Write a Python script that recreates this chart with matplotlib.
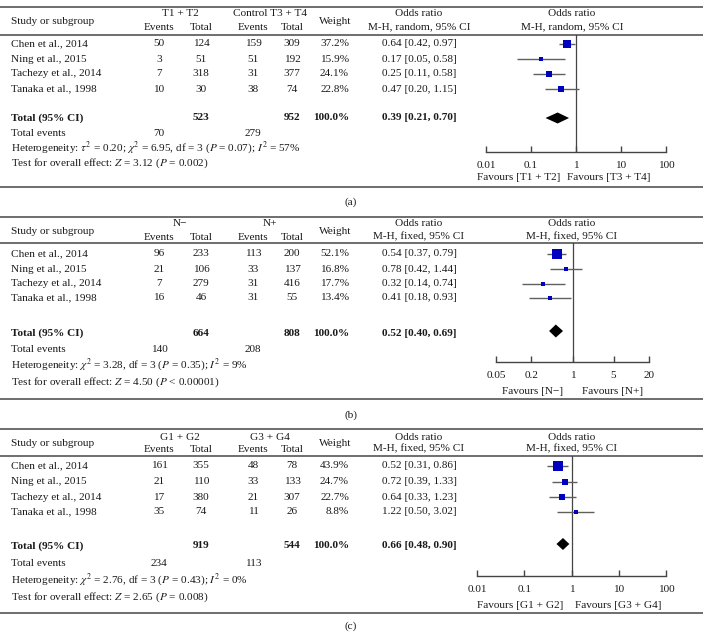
import matplotlib
matplotlib.use("Agg")
import matplotlib.pyplot as plt
from matplotlib.patches import Polygon

plt.rcParams['font.family'] = ['Liberation Serif', 'DejaVu Serif']
plt.rcParams['mathtext.fontset'] = 'stix'

# ---------------- data ----------------
studies = ["Chen et al., 2014", "Ning et al., 2015",
           "Tachezy et al., 2014", "Tanaka et al., 1998"]

# Panel (a)
a_groups = ["T1 + T2", "Control T3 + T4"]
a_exp_events = [50, 3, 7, 10]
a_exp_total = [124, 51, 318, 30]
a_ctl_events = [159, 51, 31, 38]
a_ctl_total = [309, 192, 377, 74]
a_weight = [37.2, 15.9, 24.1, 22.8]
a_or = [0.64, 0.17, 0.25, 0.47]
a_lo = [0.42, 0.05, 0.11, 0.20]
a_hi = [0.97, 0.58, 0.58, 1.15]
a_pooled = [0.39, 0.21, 0.70]
a_totals = [523, 952]
a_total_events = [70, 279]
a_method = "M-H, random, 95% CI"
a_het = r"Heterogeneity: $\tau^2$ = 0.20; $\chi^2$ = 6.95, df = 3 ($P$ = 0.07); $I^2$ = 57%"
a_test = r"Test for overall effect: $Z$ = 3.12 ($P$ = 0.002)"
a_ticks = [0.01, 0.1, 1, 10, 100]
a_ticklabels = ["0.01", "0.1", "1", "10", "100"]
a_favours = ["Favours [T1 + T2]", "Favours [T3 + T4]"]

# Panel (b)
b_groups = ["N\u2212", "N+"]
b_exp_events = [96, 21, 7, 16]
b_exp_total = [233, 106, 279, 46]
b_ctl_events = [113, 33, 31, 31]
b_ctl_total = [200, 137, 416, 55]
b_weight = [52.1, 16.8, 17.7, 13.4]
b_or = [0.54, 0.78, 0.32, 0.41]
b_lo = [0.37, 0.42, 0.14, 0.18]
b_hi = [0.79, 1.44, 0.74, 0.93]
b_pooled = [0.52, 0.40, 0.69]
b_totals = [664, 808]
b_total_events = [140, 208]
b_method = "M-H, fixed, 95% CI"
b_het = r"Heterogeneity: $\chi^2$ = 3.28, df = 3 ($P$ = 0.35); $I^2$ = 9%"
b_test = r"Test for overall effect: $Z$ = 4.50 ($P$ < 0.00001)"
b_ticks = [0.05, 0.2, 1, 5, 20]
b_ticklabels = ["0.05", "0.2", "1", "5", "20"]
b_favours = ["Favours [N\u2212]", "Favours [N+]"]

# Panel (c)
c_groups = ["G1 + G2", "G3 + G4"]
c_exp_events = [161, 21, 17, 35]
c_exp_total = [355, 110, 380, 74]
c_ctl_events = [48, 33, 21, 11]
c_ctl_total = [78, 133, 307, 26]
c_weight = [43.9, 24.7, 22.7, 8.8]
c_or = [0.52, 0.72, 0.64, 1.22]
c_lo = [0.31, 0.39, 0.33, 0.50]
c_hi = [0.86, 1.33, 1.23, 3.02]
c_pooled = [0.66, 0.48, 0.90]
c_totals = [919, 544]
c_total_events = [234, 113]
c_method = "M-H, fixed, 95% CI"
c_het = r"Heterogeneity: $\chi^2$ = 2.76, df = 3 ($P$ = 0.43); $I^2$ = 0%"
c_test = r"Test for overall effect: $Z$ = 2.65 ($P$ = 0.008)"
c_ticks = [0.01, 0.1, 1, 10, 100]
c_ticklabels = ["0.01", "0.1", "1", "10", "100"]
c_favours = ["Favours [G1 + G2]", "Favours [G3 + G4]"]

# ---------------- layout ----------------
W, H = 703, 640
fig = plt.figure(figsize=(W / 100, H / 100), dpi=100)
base = fig.add_axes([0, 0, 1, 1])
base.set_xlim(0, W)
base.set_ylim(H, 0)
base.axis('off')

FS = 8.1
RULE_C = '#555555'
SQ_C = '#0000c0'
CI_C = '#606060'
TXT_C = '#1a1a1a'

X_STUDY = 11
X_E1, X_T1, X_E2, X_T2 = 159, 201, 253, 292
X_G1, X_G2 = 180, 270
X_W = 349
X_WH = 335
X_OR = 419
X_FH = 572


def txt(x, y, s, ha='center', bold=False, size=FS):
    base.text(x, y, s, ha=ha, va='center', fontsize=size, color=TXT_C,
              fontweight='bold' if bold else 'normal')


def rule(y):
    base.plot([0, W], [y, y], color=RULE_C, lw=1.2, solid_capstyle='butt')


def panel(L, groups, ee, et, ce, ct, wt, orv, lo, hi, pooled, totals,
          tev, method, het, test, ticks, ticklabels, favours, caption):
    rule(L['top'])
    rule(L['hrule'])
    rule(L['bottom'])
    # headers
    txt(X_STUDY, L['hs'], "Study or subgroup", ha='left')
    txt(X_G1, L['h1'], groups[0])
    txt(X_G2, L['h1'], groups[1])
    for x, s in [(X_E1, "Events"), (X_T1, "Total"), (X_E2, "Events"), (X_T2, "Total")]:
        txt(x, L['h2'], s)
    txt(X_WH, L['hs'], "Weight")
    txt(X_OR, L['h1'], "Odds ratio")
    txt(X_OR, L['h2'], method)
    txt(X_FH, L['h1'], "Odds ratio")
    txt(X_FH, L['h2'], method)
    # rows
    for i, y in enumerate(L['rows']):
        txt(X_STUDY, y, studies[i], ha='left')
        txt(X_E1, y, str(ee[i]))
        txt(X_T1, y, str(et[i]))
        txt(X_E2, y, str(ce[i]))
        txt(X_T2, y, str(ct[i]))
        txt(X_W, y, f"{wt[i]:.1f}%", ha='right')
        txt(X_OR, y, f"{orv[i]:.2f} [{lo[i]:.2f}, {hi[i]:.2f}]")
    ty = L['total']
    txt(X_STUDY, ty, "Total (95% CI)", ha='left', bold=True)
    txt(X_T1, ty, str(totals[0]), bold=True)
    txt(X_T2, ty, str(totals[1]), bold=True)
    txt(X_W, ty, "100.0%", ha='right', bold=True)
    txt(X_OR, ty, f"{pooled[0]:.2f} [{pooled[1]:.2f}, {pooled[2]:.2f}]", bold=True)
    txt(X_STUDY, L['tev'], "Total events", ha='left')
    txt(X_E1, L['tev'], str(tev[0]))
    txt(X_E2, L['tev'], str(tev[1]))
    txt(X_STUDY, L['het'], het, ha='left')
    txt(X_STUDY, L['test'], test, ha='left')
    txt(351, L['cap'], caption)
    for x, s, ha in [(L['fav'][0], favours[0], 'right'), (L['fav'][1], favours[1], 'left')]:
        txt(x, L['favy'], s, ha=ha)

    # forest axes (pixel-aligned)
    x0, x1 = L['fx']
    ytop, yax = L['hrule'], L['axis']
    ax = fig.add_axes([x0 / W, 1 - yax / H, (x1 - x0) / W, (yax - ytop) / H])
    ax.set_xscale('log')
    ax.set_xlim(ticks[0], ticks[-1])
    ax.set_ylim(yax, ytop)
    ax.patch.set_alpha(0)
    for s in ['top', 'left', 'right']:
        ax.spines[s].set_visible(False)
    ax.spines['bottom'].set_color('#444444')
    ax.spines['bottom'].set_linewidth(1.0)
    ax.set_xticks(ticks)
    ax.set_xticklabels(ticklabels, fontsize=FS, color=TXT_C)
    ax.minorticks_off()
    ax.tick_params(axis='x', direction='in', length=4, width=1.0,
                   color='#444444', pad=6.5)
    ax.set_yticks([])
    ax.axvline(1, color='#444444', lw=0.9)
    for i, y in enumerate(L['rows']):
        ax.plot([lo[i], hi[i]], [y, y], color=CI_C, lw=1.0, solid_capstyle='butt')
        side = 1.5 + 0.18 * wt[i]
        ax.plot([orv[i]], [y], marker='s', ms=side * 0.72, color=SQ_C,
                mec=SQ_C, mew=0)
    dy = L['dh']
    dmy = L['dy']
    ax.add_patch(Polygon([(pooled[1], dmy), (pooled[0], dmy - dy),
                          (pooled[2], dmy), (pooled[0], dmy + dy)],
                         closed=True, color='black', lw=0))


LA = dict(top=7, h1=14, h2=27, hs=21, hrule=35, rows=[44, 59, 74, 89],
          total=118, dy=118, dh=5.5, tev=133, het=148, test=163, axis=152,
          favy=177, fav=(560, 567), bottom=187, cap=202, fx=(486, 666))
LB = dict(top=217, h1=224, h2=237, hs=231, hrule=243, rows=[254, 269, 284, 298],
          total=333, dy=331, dh=6.5, tev=349, het=365, test=382, axis=362,
          favy=392, fav=(563, 582), bottom=399, cap=415, fx=(496, 649))
LC = dict(top=429, h1=437, h2=449, hs=443, hrule=456, rows=[466, 482, 497, 512],
          total=546, dy=544, dh=6, tev=564, het=580, test=597, axis=576,
          favy=606, fav=(563, 575), bottom=613, cap=626, fx=(477, 666))

panel(LA, a_groups, a_exp_events, a_exp_total, a_ctl_events, a_ctl_total,
      a_weight, a_or, a_lo, a_hi, a_pooled, a_totals, a_total_events,
      a_method, a_het, a_test, a_ticks, a_ticklabels, a_favours, "(a)")
panel(LB, b_groups, b_exp_events, b_exp_total, b_ctl_events, b_ctl_total,
      b_weight, b_or, b_lo, b_hi, b_pooled, b_totals, b_total_events,
      b_method, b_het, b_test, b_ticks, b_ticklabels, b_favours, "(b)")
panel(LC, c_groups, c_exp_events, c_exp_total, c_ctl_events, c_ctl_total,
      c_weight, c_or, c_lo, c_hi, c_pooled, c_totals, c_total_events,
      c_method, c_het, c_test, c_ticks, c_ticklabels, c_favours, "(c)")

fig.savefig("out.png", dpi=100)
